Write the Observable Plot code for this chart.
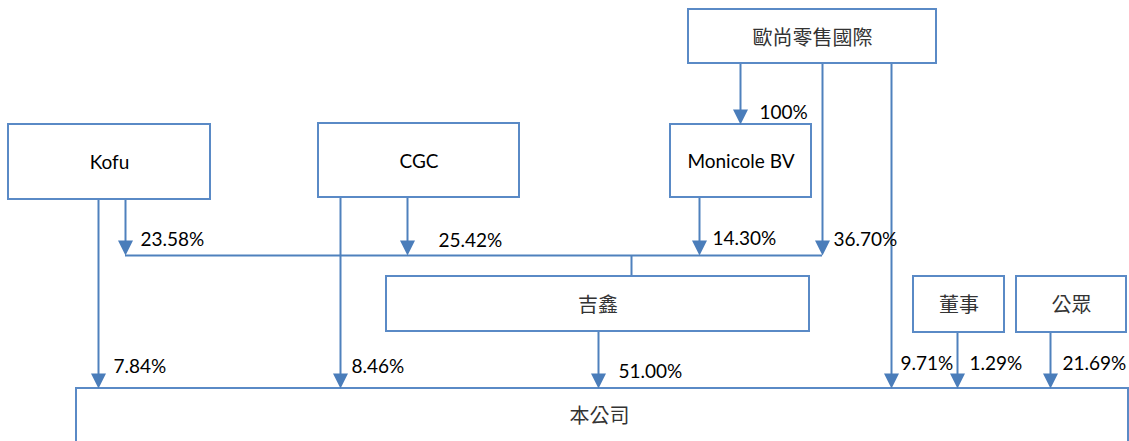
<!DOCTYPE html>
<html>
<head>
<meta charset="utf-8">
<script src="https://cdn.jsdelivr.net/npm/d3@7"></script>
<script src="https://cdn.jsdelivr.net/npm/@observablehq/plot@0.6"></script>
<style>
  html, body { margin: 0; padding: 0; background: #fff; overflow: hidden; }
  #chart svg { display: block; overflow: hidden; }
</style>
</head>
<body>
<div id="chart"></div>
<script>
// ---- data ----
const entities = ["歐尚零售國際", "Kofu", "CGC", "Monicole BV", "吉鑫", "董事", "公眾", "本公司"];
const owners   = ["歐尚零售國際", "歐尚零售國際", "歐尚零售國際", "Kofu", "Kofu", "CGC", "CGC", "Monicole BV", "吉鑫", "董事", "公眾"];
const targets  = ["Monicole BV", "吉鑫", "本公司", "吉鑫", "本公司", "吉鑫", "本公司", "吉鑫", "本公司", "本公司", "本公司"];
const stakes   = ["100%", "36.70%", "9.71%", "23.58%", "7.84%", "25.42%", "8.46%", "14.30%", "51.00%", "1.29%", "21.69%"];

// ---- layout (pixel positions of the diagram) ----
const boxLayout = {
  "歐尚零售國際": {x1: 688, x2: 936, y1: 9,   y2: 63,  ly: 38},
  "Kofu":        {x1: 8,   x2: 210, y1: 124, y2: 199, ly: 162},
  "CGC":         {x1: 318, x2: 519, y1: 123, y2: 197, ly: 161},
  "Monicole BV": {x1: 670, x2: 811, y1: 124, y2: 197, ly: 161},
  "吉鑫":        {x1: 386, x2: 809, y1: 276, y2: 331, ly: 305},
  "董事":        {x1: 913, x2: 1004, y1: 276, y2: 332, ly: 305},
  "公眾":        {x1: 1016, x2: 1126, y1: 276, y2: 332, ly: 305},
  "本公司":      {x1: 76,  x2: 1128, y1: 388, y2: 470, ly: 416}
};
// connector route for each stake: x of the vertical, tip y, label anchor
const edgeX   = [740, 822, 891, 125, 98, 407, 340, 699, 598, 957, 1050];
const edgeTip = [124, 255, 388, 255, 388, 255, 388, 255, 388, 388, 388];
const labelX  = [759, 833, 900, 140, 113, 438, 351, 712, 618, 969, 1062];
const labelY  = [118, 245, 369, 245, 372, 246, 372, 244, 377, 369, 369];
const busY = 255, busX1 = 125, busX2 = 822, busDropX = 631;

const LINE = "#4f81bd", BOX = "#5a8ac6", ARROW = "#4a7dba";

const boxes = entities.map(name => ({name, ...boxLayout[name]}));
const edges = owners.map((o, i) => ({
  owner: o, target: targets[i], stake: stakes[i],
  x: edgeX[i], y1: boxLayout[o].y2, y2: edgeTip[i],
  lx: labelX[i], ly: labelY[i]
}));
const bus = [{x1: busX1, x2: busX2, y: busY}];
const busDrop = [{x: busDropX, y1: busY, y2: boxLayout["吉鑫"].y1}];

// arrowhead symbol with its tip at the anchor point
const arrowHead = {
  draw(context) {
    context.moveTo(0, 0);
    context.lineTo(-7.5, -15);
    context.lineTo(7.5, -15);
    context.closePath();
  }
};

const isCJK = s => /[\u3400-\u9fff]/.test(s);
const latinFont = "Lato, 'Open Sans', sans-serif";
const cjkFont = "'Noto Sans CJK TC', 'Noto Sans CJK SC', sans-serif";

const plot = Plot.plot({
  width: 1129,
  height: 441,
  margin: 0,
  x: {domain: [0, 1129], range: [0, 1129], axis: null},
  y: {domain: [0, 441], range: [0, 441], axis: null},
  style: {background: "#fff", overflow: "hidden"},
  marks: [
    Plot.ruleX(edges, {x: "x", y1: "y1", y2: d => d.y2 - 10, stroke: LINE, strokeWidth: 2}),
    Plot.ruleY(bus, {y: "y", x1: "x1", x2: "x2", stroke: LINE, strokeWidth: 2}),
    Plot.ruleX(busDrop, {x: "x", y1: "y1", y2: "y2", stroke: LINE, strokeWidth: 2}),
    Plot.rect(boxes, {x1: "x1", x2: "x2", y1: "y1", y2: "y2", fill: "#fff", stroke: BOX, strokeWidth: 2}),
    Plot.dot(edges, {x: "x", y: "y2", symbol: arrowHead, fill: ARROW, stroke: "none"}),
    Plot.text(boxes.filter(d => !isCJK(d.name)), {
      x: d => (d.x1 + d.x2) / 2, y: "ly", text: "name",
      fontFamily: latinFont, fontSize: 19, fill: "#000", lineAnchor: "middle"
    }),
    Plot.text(boxes.filter(d => isCJK(d.name)), {
      x: d => d.name === "本公司" ? 599 : (d.x1 + d.x2) / 2, y: "ly", text: "name",
      fontFamily: cjkFont, fontSize: 20, fill: "#333", lineAnchor: "middle"
    }),
    Plot.text(edges, {
      x: "lx", y: "ly", text: "stake", textAnchor: "start", lineAnchor: "bottom",
      fontFamily: latinFont, fontSize: 19, fill: "#000"
    })
  ]
});
document.getElementById("chart").appendChild(plot);
</script>
</body>
</html>
